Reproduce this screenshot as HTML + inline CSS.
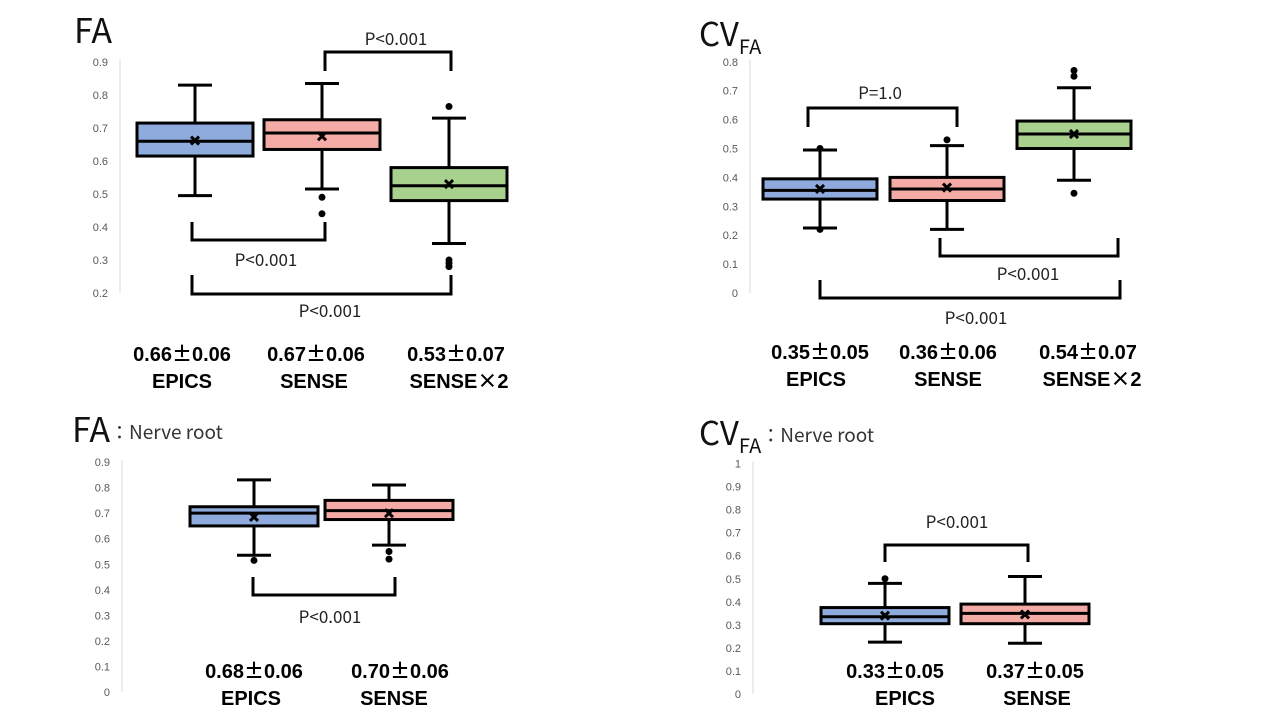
<!DOCTYPE html>
<html><head><meta charset="utf-8">
<style>
body{margin:0;background:#fff;}
svg{display:block;font-family:"Liberation Sans","Noto Sans CJK JP",sans-serif;}
.tick{font-size:11px;fill:#595959;}
.pt{font-size:17px;fill:#222;font-family:"Noto Sans CJK JP","Liberation Sans",sans-serif;}
.st{font-size:20px;font-weight:bold;fill:#000;}
.cj{font-family:"Noto Sans CJK JP",sans-serif;font-weight:bold;}
.ttl{font-family:"Noto Sans CJK JP","Liberation Sans",sans-serif;fill:#111;}
</style></head>
<body>
<svg id="c" width="1280" height="720" viewBox="0 0 1280 720">
<text class="ttl" x="74" y="43" font-size="34">FA</text>
<text class="ttl" x="699" y="46" font-size="33">CV<tspan font-size="20" dy="8">FA</tspan></text>
<text class="ttl" x="72" y="442" font-size="34">FA<tspan font-size="19" dy="-3" fill="#333">：Nerve root</tspan></text>
<text class="ttl" x="699" y="445" font-size="33">CV<tspan font-size="20" dy="8">FA</tspan><tspan font-size="19" dy="-11" fill="#333">：Nerve root</tspan></text>
</svg>
<script>
// Panel 1: FA
const p1Cats=["EPICS","SENSE","SENSE×2"];
const p1Q1=[0.615,0.635,0.48];
const p1Med=[0.66,0.685,0.525];
const p1Q3=[0.715,0.725,0.58];
const p1Mean=[0.662,0.675,0.53];
const p1Lo=[0.495,0.515,0.35];
const p1Hi=[0.83,0.835,0.73];
const p1Out=[[],[0.49,0.44],[0.765,0.30,0.29,0.28]];
const p1Ticks=["0.2","0.3","0.4","0.5","0.6","0.7","0.8","0.9"];
const p1Stats=["0.66±0.06","0.67±0.06","0.53±0.07"];
// Panel 2: CV FA
const p2Cats=["EPICS","SENSE","SENSE×2"];
const p2Q1=[0.325,0.32,0.50];
const p2Med=[0.355,0.36,0.55];
const p2Q3=[0.395,0.40,0.595];
const p2Mean=[0.36,0.365,0.55];
const p2Lo=[0.225,0.22,0.39];
const p2Hi=[0.495,0.51,0.71];
const p2Out=[[0.50,0.22],[0.53],[0.77,0.75,0.345]];
const p2Ticks=["0","0.1","0.2","0.3","0.4","0.5","0.6","0.7","0.8"];
const p2Stats=["0.35±0.05","0.36±0.06","0.54±0.07"];
// Panel 3: FA nerve root
const p3Cats=["EPICS","SENSE"];
const p3Q1=[0.65,0.675];
const p3Med=[0.70,0.71];
const p3Q3=[0.725,0.75];
const p3Mean=[0.685,0.70];
const p3Lo=[0.535,0.575];
const p3Hi=[0.83,0.81];
const p3Out=[[0.515],[0.55,0.52]];
const p3Ticks=["0","0.1","0.2","0.3","0.4","0.5","0.6","0.7","0.8","0.9"];
const p3Stats=["0.68±0.06","0.70±0.06"];
// Panel 4: CV FA nerve root
const p4Cats=["EPICS","SENSE"];
const p4Q1=[0.305,0.305];
const p4Med=[0.335,0.35];
const p4Q3=[0.375,0.39];
const p4Mean=[0.34,0.345];
const p4Lo=[0.225,0.22];
const p4Hi=[0.48,0.51];
const p4Out=[[0.50],[]];
const p4Ticks=["0","0.1","0.2","0.3","0.4","0.5","0.6","0.7","0.8","0.9","1"];
const p4Stats=["0.33±0.05","0.37±0.05"];

const NS="http://www.w3.org/2000/svg";
const svg=document.getElementById('c');
const colors=["#8faadc","#f4aaa5","#a9d18e"];
function mk(tag,attrs,parent){const e=document.createElementNS(NS,tag);for(const k in attrs)e.setAttribute(k,attrs[k]);(parent||svg).appendChild(e);return e;}
function richText(el,s){
  s.split(/([±×])/).forEach(part=>{
    if(!part)return;
    const t=mk('tspan',{},el);
    if(part==='±'||part==='×')t.setAttribute('class','cj');
    t.textContent=part;
  });
}

function panel(id,L,cats,q1,med,q3,mean,lo,hi,out,ticks,stats){
  const g=mk('g',{});
  
  
  const y=v=>L.yBase-(v-L.vBase)*L.ppu;
  const ax=mk('line',{x1:L.axisX,x2:L.axisX,y1:y(parseFloat(ticks[ticks.length-1]))-2,y2:y(parseFloat(ticks[0])),stroke:'#d9d9d9','stroke-width':1},g);
  
  
  ticks.forEach(t=>{
    const tx=mk('text',{x:L.axisX-12,y:y(parseFloat(t))+4,'text-anchor':'end',class:'tick'},g);
    tx.textContent=t;
    
    
  });
  cats.forEach((c,i)=>{
    const cx=L.cx[i],hw=L.bw/2,cap=17;
    const bg=mk('g',{},g);
    
    
    mk('line',{x1:cx,x2:cx,y1:y(hi[i]),y2:y(q3[i]),stroke:'#000','stroke-width':3},bg);
    mk('line',{x1:cx,x2:cx,y1:y(q1[i]),y2:y(lo[i]),stroke:'#000','stroke-width':3},bg);
    mk('line',{x1:cx-cap,x2:cx+cap,y1:y(hi[i]),y2:y(hi[i]),stroke:'#000','stroke-width':3},bg);
    mk('line',{x1:cx-cap,x2:cx+cap,y1:y(lo[i]),y2:y(lo[i]),stroke:'#000','stroke-width':3},bg);
    mk('rect',{x:cx-hw,y:y(q3[i]),width:L.bw,height:y(q1[i])-y(q3[i]),fill:colors[i],stroke:'#000','stroke-width':3},bg);
    mk('line',{x1:cx-hw,x2:cx+hw,y1:y(med[i]),y2:y(med[i]),stroke:'#000','stroke-width':3},bg);
    const my=y(mean[i]);
    mk('path',{d:`M${cx-4},${my-4}L${cx+4},${my+4}M${cx+4},${my-4}L${cx-4},${my+4}`,stroke:'#000','stroke-width':3},bg);
    out[i].forEach(v=>{
      const o=mk('circle',{cx:cx,cy:y(v),r:3.5,fill:'#000'},bg);
      
      
    });
    const s1=mk('text',{x:L.sx[i],y:L.sy,'text-anchor':'middle',class:'st'},g);
    richText(s1,stats[i]);
    
    
    const s2=mk('text',{x:L.nx[i],y:L.sy+27,'text-anchor':'middle',class:'st'},g);
    richText(s2,c);
    
    
  });
  L.br.forEach(b=>{
    const bb=mk('g',{},g);
    
    
    mk('path',{d:`M${b[0]},${b[3]}V${b[2]}H${b[1]}V${b[3]}`,fill:'none',stroke:'#000','stroke-width':3},bb);
    const t=mk('text',{x:b[4],y:b[5],'text-anchor':'middle',class:'pt'},bb);
    t.textContent=b[6];
  });
}
panel('fa',{yBase:62,vBase:0.9,ppu:330,axisX:120,cx:[195,322,449],bw:116,sx:[182,316,456],nx:[182,314,459],sy:361,
  br:[[325,451,52,71,396,45,'P<0.001'],[192,325,240,222,266,266,'P<0.001'],[192,451,294,275,330,317,'P<0.001']]},
  p1Cats,p1Q1,p1Med,p1Q3,p1Mean,p1Lo,p1Hi,p1Out,p1Ticks,p1Stats);
panel('cvfa',{yBase:293,vBase:0,ppu:289,axisX:750,cx:[820,947,1074],bw:114,sx:[820,948,1088],nx:[816,948,1092],sy:359,
  br:[[808,957,108,127,880,99,'P=1.0'],[940,1118,256,238,1028,280,'P<0.001'],[820,1120,298,280,976,324,'P<0.001']]},
  p2Cats,p2Q1,p2Med,p2Q3,p2Mean,p2Lo,p2Hi,p2Out,p2Ticks,p2Stats);
panel('fa-nerve',{yBase:692,vBase:0,ppu:255.5,axisX:122,cx:[254,389],bw:128,sx:[254,400],nx:[251,394],sy:678,
  br:[[253,395,595,577,330,623,'P<0.001']]},
  p3Cats,p3Q1,p3Med,p3Q3,p3Mean,p3Lo,p3Hi,p3Out,p3Ticks,p3Stats);
panel('cvfa-nerve',{yBase:694,vBase:0,ppu:230.5,axisX:753,cx:[885,1025],bw:128,sx:[895,1035],nx:[905,1037],sy:678,
  br:[[885,1028,545,562,957,528,'P<0.001']]},
  p4Cats,p4Q1,p4Med,p4Q3,p4Mean,p4Lo,p4Hi,p4Out,p4Ticks,p4Stats);
</script>
</body></html>
